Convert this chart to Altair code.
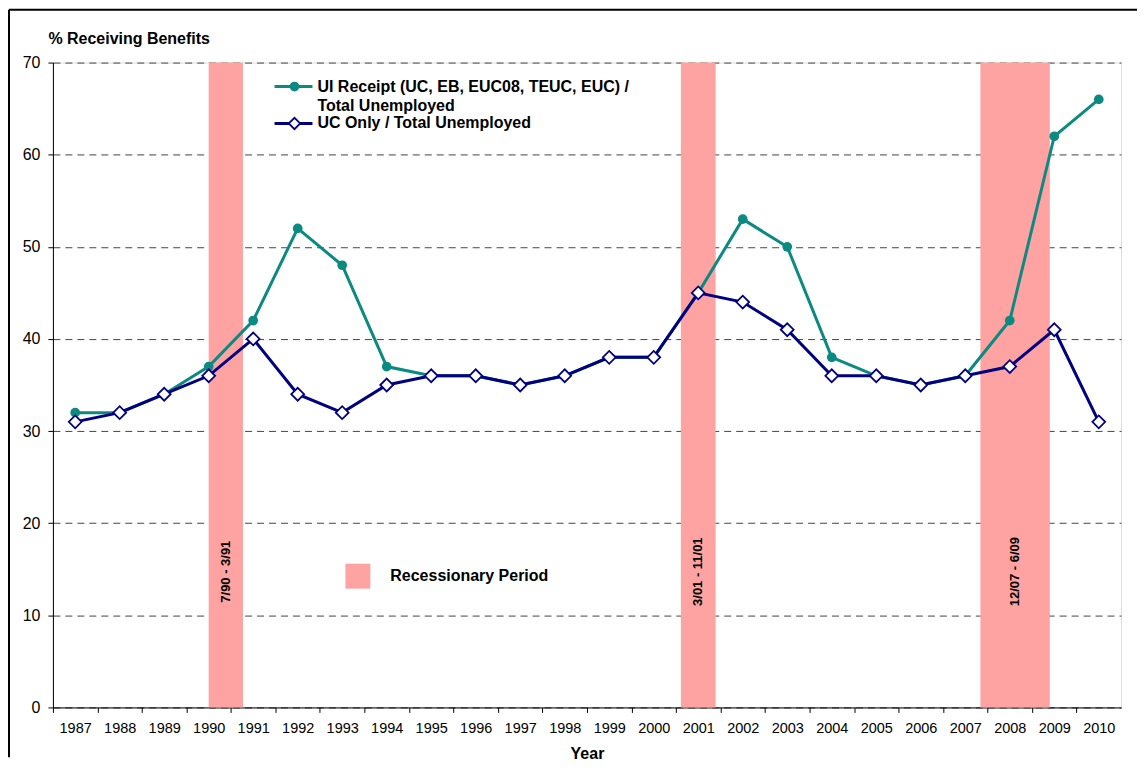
import altair as alt
import pandas as pd

# ---------------- data ----------------
years = list(range(1987, 2011))
ui_receipt = [32, 32, 34, 37, 42, 52, 48, 37, 36, 36, 35, 36, 38, 38,
              45, 53, 50, 38, 36, 35, 36, 42, 62, 66]
uc_only = [31, 32, 34, 36, 40, 34, 32, 35, 36, 36, 35, 36, 38, 38,
           45, 44, 41, 36, 36, 35, 36, 37, 41, 31]
legend_lines = ["UI Receipt (UC, EB, EUC08, TEUC, EUC) /", "Total Unemployed",
                "UC Only / Total Unemployed"]
rec_labels = ["7/90 - 3/91", "3/01 - 11/01", "12/07 - 6/09"]
rec_start = [1990.0, 2000.61, 2007.34]
rec_end = [1990.77, 2001.39, 2008.9]
y_ticks = [0, 10, 20, 30, 40, 50, 60, 70]

# ---------------- style ----------------
W, H = 1070, 646
BAND = W / len(years)
TEAL = "#0B8A82"
NAVY = "#000080"
PINK = "#FFA2A2"
FONT = "Liberation Sans"

df_ui = pd.DataFrame({"year": years, "value": ui_receipt})
df_uc = pd.DataFrame({"year": years, "value": uc_only})
df_rec = pd.DataFrame({"start": rec_start, "end": rec_end, "label": rec_labels})
one = pd.DataFrame({"a": [0]})

x_scale = alt.Scale(domain=[years[0] - 0.5, years[-1] + 0.5], nice=False, zero=False)
y_scale = alt.Scale(domain=[0, 70], nice=False, zero=True)

x_axis = alt.Axis(
    values=years + [years[-1] + 1], format="d",
    labelExpr=f"datum.value > {years[-1]} ? '' : datum.label",
    tickOffset=-BAND / 2, labelOffset=BAND / 2,
    tickSize=5, labelPadding=9, labelFontSize=14.5, labelColor="black",
    labelFlush=False, labelOverlap=False,
    domainColor="black", tickColor="black", grid=False,
    titleFontSize=16, titleFontWeight="bold", titleColor="black",
    titleY=46, titleBaseline="middle",
)
y_axis = alt.Axis(
    values=y_ticks, tickSize=5, labelPadding=8, labelFontSize=16,
    labelColor="black", domainColor="black", tickColor="black",
    grid=True, gridDash=[7, 5], gridColor="#444444", gridWidth=1,
    titleAngle=0, titleAlign="left", titleBaseline="middle",
    titleX=-5, titleY=-24, titleFontSize=16, titleFontWeight="bold",
    titleColor="black",
)

def xq(field, **kw):
    return alt.X(field, type="quantitative", scale=x_scale, title="Year", **kw)

def yq(field, **kw):
    return alt.Y(field, type="quantitative", scale=y_scale,
                 title="% Receiving Benefits", **kw)

rec_rect = alt.Chart(df_rec).mark_rect(color=PINK, opacity=1).encode(
    x=xq("start", axis=x_axis), x2="end", y=alt.value(0), y2=alt.value(H))
rec_text = alt.Chart(df_rec).transform_calculate(
    mid="(datum.start + datum.end) / 2").mark_text(
    angle=270, fontWeight="bold", fontSize=13, font=FONT, color="black",
    align="center", baseline="middle").encode(
    x=xq("mid"), y=alt.value(510), text="label:N")

teal_line = alt.Chart(df_ui).mark_line(color=TEAL, strokeWidth=3).encode(
    x=xq("year"), y=yq("value", axis=y_axis))
teal_pts = alt.Chart(df_ui).mark_point(
    shape="circle", filled=True, color=TEAL, size=95, opacity=1).encode(
    x=xq("year"), y=yq("value"))
navy_line = alt.Chart(df_uc).mark_line(color=NAVY, strokeWidth=3).encode(
    x=xq("year"), y=yq("value"))
navy_pts = alt.Chart(df_uc).mark_point(
    shape="diamond", filled=True, fill="white", stroke=NAVY, strokeWidth=1.8,
    size=165, opacity=1).encode(x=xq("year"), y=yq("value"))

# ---------------- legend ----------------
leg = alt.Chart(one)
leg_teal_rule = leg.mark_rule(color=TEAL, strokeWidth=3).encode(
    x=alt.value(222), x2=alt.value(260), y=alt.value(24))
leg_teal_pt = leg.mark_point(shape="circle", filled=True, color=TEAL,
                             size=95, opacity=1).encode(
    x=alt.value(242), y=alt.value(24))
leg_navy_rule = leg.mark_rule(color=NAVY, strokeWidth=3).encode(
    x=alt.value(222), x2=alt.value(260), y=alt.value(61))
leg_navy_pt = leg.mark_point(shape="diamond", filled=True, fill="white",
                             stroke=NAVY, strokeWidth=1.8, size=130,
                             opacity=1).encode(
    x=alt.value(242), y=alt.value(61))
txt_kw = dict(align="left", baseline="middle", fontSize=16,
              fontWeight="bold", font=FONT, color="black")
leg_t1 = leg.mark_text(**txt_kw).encode(
    x=alt.value(265), y=alt.value(24), text=alt.value(legend_lines[0]))
leg_t2 = leg.mark_text(**txt_kw).encode(
    x=alt.value(265), y=alt.value(44), text=alt.value(legend_lines[1]))
leg_t3 = leg.mark_text(**txt_kw).encode(
    x=alt.value(265), y=alt.value(61), text=alt.value(legend_lines[2]))
leg_swatch = leg.mark_rect(color=PINK, opacity=1).encode(
    x=alt.value(293), x2=alt.value(318), y=alt.value(502), y2=alt.value(527))
leg_rec_t = leg.mark_text(**txt_kw).encode(
    x=alt.value(338), y=alt.value(514), text=alt.value("Recessionary Period"))

# ---------------- outer frame ----------------
frame_top = leg.mark_rule(color="black", strokeWidth=2).encode(
    x=alt.value(-44), x2=alt.value(W + 16), y=alt.value(-53))
frame_left = leg.mark_rule(color="black", strokeWidth=2).encode(
    x=alt.value(-44), y=alt.value(-53), y2=alt.value(H + 50))

chart = alt.layer(
    rec_rect, rec_text, teal_line, teal_pts, navy_line, navy_pts,
    leg_teal_rule, leg_teal_pt, leg_navy_rule, leg_navy_pt,
    leg_t1, leg_t2, leg_t3, leg_swatch, leg_rec_t,
    frame_top, frame_left,
).properties(
    width=W, height=H, padding=0,
).configure_view(strokeWidth=0).configure(
    font=FONT, background="white"
)

chart.save("out.html", embed_options={"renderer": "svg", "actions": False})
